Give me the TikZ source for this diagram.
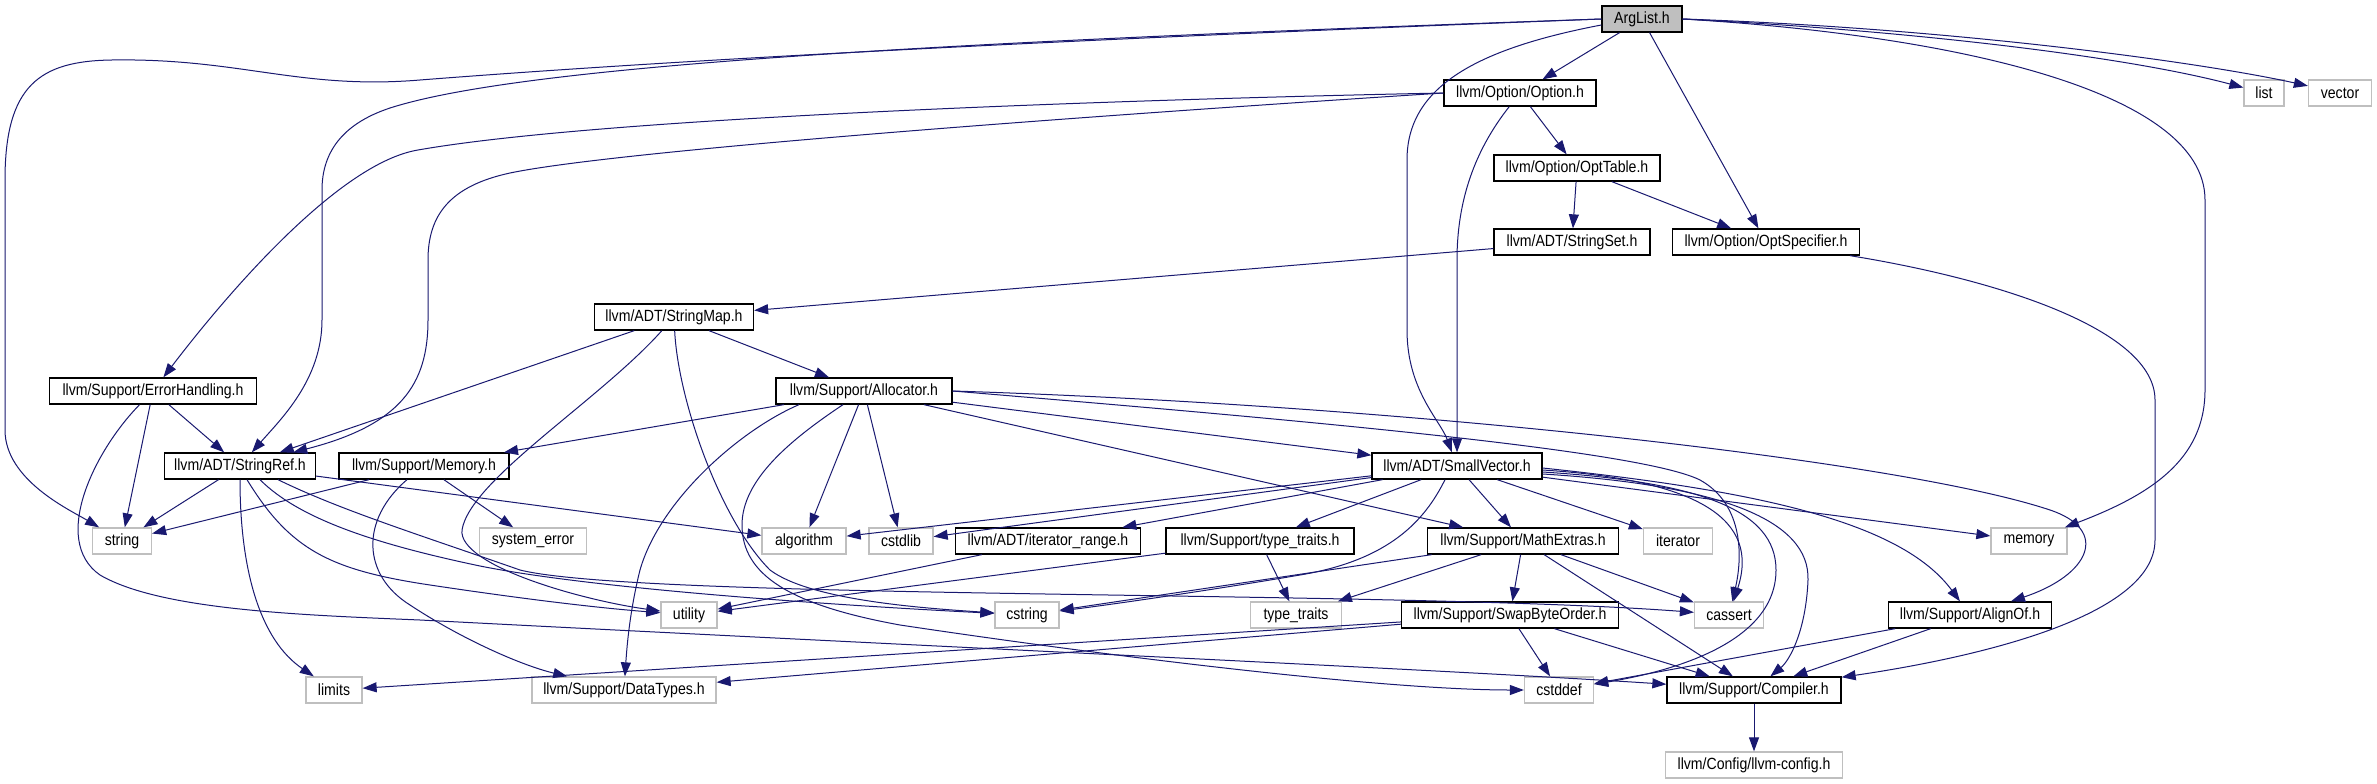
\documentclass[tikz,border=0pt]{standalone}
\usepackage{fontspec}
\setmainfont{Liberation Sans}[FakeStretch=0.87]
\usetikzlibrary{arrows.meta}
\definecolor{edgeblue}{RGB}{25,25,112}
\definecolor{sysgray}{RGB}{191,191,191}
\tikzset{
  hdr/.style={draw=black, line width=1.3pt, fill=white, minimum height=26pt,
      inner sep=0pt, font=\fontsize{16.2pt}{19pt}\selectfont},
  syshdr/.style={hdr, draw=sysgray},
  rootfile/.style={hdr, fill=sysgray},
  incl/.style={draw=edgeblue, line width=1pt, -{Triangle[length=14pt,width=10pt]}},
}

\begin{document}
\begin{tikzpicture}[x=1pt,y=-1pt]
  \path[fill=white, use as bounding box] (0,0) rectangle (2377,784);
  % Top rows
  \node[rootfile, minimum width=80pt] (arglist) at (1642,19) {ArgList.h};
  \node[hdr, minimum width=152pt] (optionh) at (1520,93) {llvm/Option/Option.h};
  \node[syshdr, minimum width=40pt] (list) at (2264,93) {list};
  \node[syshdr, minimum width=63pt] (vector) at (2340,93) {vector};
  \node[hdr, minimum width=166pt] (opttable) at (1577,168) {llvm/Option/OptTable.h};
  \node[hdr, minimum width=156pt] (stringset) at (1572,242) {llvm/ADT/StringSet.h};
  \node[hdr, minimum width=187pt] (optspec) at (1766,242) {llvm/Option/OptSpecifier.h};
  \node[hdr, minimum width=159pt] (stringmap) at (674,317) {llvm/ADT/StringMap.h};
  \node[hdr, minimum width=207pt] (errhandling) at (153,391) {llvm/Support/ErrorHandling.h};
  \node[hdr, minimum width=176pt] (allocator) at (864,391) {llvm/Support/Allocator.h};
  % Middle row
  \node[hdr, minimum width=151pt] (stringref) at (240,466) {llvm/ADT/StringRef.h};
  \node[hdr, minimum width=170pt] (memoryh) at (424,466) {llvm/Support/Memory.h};
  \node[hdr, minimum width=170pt] (smallvec) at (1457,466) {llvm/ADT/SmallVector.h};
  % Third row
  \node[syshdr, minimum width=59pt] (string) at (122,541) {string};
  \node[syshdr, minimum width=107pt] (syserror) at (533,541) {system\_error};
  \node[syshdr, minimum width=84pt] (algorithm) at (804,541) {algorithm};
  \node[syshdr, minimum width=64pt] (cstdlib) at (901,541) {cstdlib};
  \node[hdr, minimum width=185pt] (iterrange) at (1048,541) {llvm/ADT/iterator\_range.h};
  \node[hdr, minimum width=188pt] (typetraitsh) at (1260,541) {llvm/Support/type\_traits.h};
  \node[hdr, minimum width=191pt] (mathextras) at (1523,541) {llvm/Support/MathExtras.h};
  \node[syshdr, minimum width=69pt] (iterator) at (1678,541) {iterator};
  \node[syshdr, minimum width=76pt] (memory) at (2029,541) {memory};
  % Fourth row
  \node[syshdr, minimum width=56pt] (utility) at (689,615) {utility};
  \node[syshdr, minimum width=64pt] (cstring) at (1027,615) {cstring};
  \node[syshdr, minimum width=91pt] (typetraits) at (1296,615) {type\_traits};
  \node[hdr, minimum width=217pt] (swapbyte) at (1510,615) {llvm/Support/SwapByteOrder.h};
  \node[syshdr, minimum width=69pt] (cassert) at (1729,615) {cassert};
  \node[hdr, minimum width=163pt] (alignof) at (1970,615) {llvm/Support/AlignOf.h};
  % Bottom rows
  \node[syshdr, minimum width=56pt] (limits) at (334,690) {limits};
  \node[syshdr, minimum width=184pt] (datatypes) at (624,690) {llvm/Support/DataTypes.h};
  \node[syshdr, minimum width=69pt] (cstddef) at (1559,690) {cstddef};
  \node[hdr, minimum width=174pt] (compiler) at (1754,690) {llvm/Support/Compiler.h};
  \node[syshdr, minimum width=177pt] (llvmconfig) at (1754,765) {llvm/Config/llvm-config.h};

  % ArgList.h
  \draw[incl] (arglist) -- (optionh);
  \draw[incl] (arglist) -- (optspec);
  \draw[incl] (arglist.east) .. controls (1900,30) and (2120,55) .. (list);
  \draw[incl] (arglist.east) .. controls (1950,28) and (2200,62) .. (vector);
  \draw[incl] (arglist.east) .. controls (1950,35) and (2205,90) .. (2205,200) -- (2205,390)
    .. controls (2205,460) and (2150,495) .. (memory);
  \draw[incl] (arglist.west) .. controls (1000,42) and (650,62) .. (420,80)
    .. controls (300,90) and (240,58) .. (112,60) .. controls (40,61) and (5,85) .. (5,180)
    -- (5,430) .. controls (5,480) and (70,510) .. (string);
  \draw[incl] (arglist.west) .. controls (1000,40) and (550,62) .. (400,105)
    .. controls (345,120) and (322,150) .. (322,190) -- (322,320)
    .. controls (322,380) and (280,420) .. (stringref);
  \draw[incl] ([yshift=-6pt]arglist.west) .. controls (1470,50) and (1407,90) .. (1407,160)
    -- (1407,330) .. controls (1407,390) and (1440,420) .. (smallvec);
  % Option.h
  \draw[incl] (optionh) -- (opttable);
  \draw[incl] (optionh.west) .. controls (1100,100) and (600,118) .. (418,150)
    .. controls (340,163) and (230,290) .. (errhandling);
  \draw[incl] (optionh.west) .. controls (1100,115) and (620,150) .. (510,173)
    .. controls (450,186) and (428,215) .. (428,260) -- (428,320)
    .. controls (428,385) and (400,425) .. (stringref);
  \draw[incl] (optionh) .. controls (1475,150) and (1457,200) .. (1457,260) -- (smallvec);
  % OptTable.h, StringSet.h, OptSpecifier.h
  \draw[incl] (opttable) -- (stringset);
  \draw[incl] (opttable) -- (optspec);
  \draw[incl] (stringset) -- (stringmap);
  \draw[incl] (optspec) .. controls (2000,280) and (2155,330) .. (2155,400) -- (2155,540)
    .. controls (2155,620) and (1960,660) .. (compiler);
  % StringMap.h
  \draw[incl] (stringmap) -- (stringref);
  \draw[incl] (stringmap) -- (allocator);
  \draw[incl] (stringmap) .. controls (600,400) and (470,480) .. (462,530)
    .. controls (458,565) and (580,600) .. (utility);
  \draw[incl] (stringmap) .. controls (678,400) and (720,520) .. (770,570)
    .. controls (810,600) and (920,608) .. (cstring);
  % ErrorHandling.h
  \draw[incl] (errhandling) -- (stringref);
  \draw[incl] (errhandling) -- (string);
  \draw[incl] (errhandling) .. controls (95,450) and (50,540) .. (100,575)
    .. controls (160,610) and (300,615) .. (420,620)
    .. controls (900,645) and (1450,670) .. (compiler);
  % StringRef.h
  \draw[incl] (stringref) -- (string);
  \draw[incl] (stringref) -- (algorithm);
  \draw[incl] (stringref) .. controls (240,570) and (260,640) .. (limits);
  \draw[incl] ([xshift=7pt]stringref.south) .. controls (290,550) and (330,570) .. (430,585)
    .. controls (530,600) and (600,608) .. (utility);
  \draw[incl] ([xshift=20pt]stringref.south) .. controls (300,520) and (380,545) .. (480,566)
    .. controls (600,590) and (850,606) .. (cstring);
  \draw[incl] ([xshift=38pt]stringref.south) .. controls (340,510) and (420,535) .. (520,570)
    .. controls (640,600) and (1400,590) .. (cassert);
  % Memory.h
  \draw[incl] (memoryh) -- (string);
  \draw[incl] (memoryh) -- (syserror);
  \draw[incl] ([xshift=-17pt]memoryh.south) .. controls (360,520) and (362,575) .. (410,605)
    .. controls (460,638) and (520,665) .. (datatypes);
  % Allocator.h
  \draw[incl] (allocator) -- (memoryh);
  \draw[incl] (allocator) -- (algorithm);
  \draw[incl] (allocator) -- (cstdlib);
  \draw[incl] (allocator) -- (smallvec);
  \draw[incl] (allocator) -- (mathextras);
  \draw[incl] ([xshift=-65pt]allocator.south) .. controls (740,430) and (660,500) .. (640,570)
    .. controls (630,610) and (627,645) .. (datatypes);
  \draw[incl] ([xshift=-21pt]allocator.south) .. controls (790,440) and (742,480) .. (742,525)
    .. controls (742,575) and (790,605) .. (900,625)
    .. controls (1100,655) and (1380,690) .. (cstddef);
  \draw[incl] (allocator.east) .. controls (1300,420) and (1640,450) .. (1700,480)
    .. controls (1745,505) and (1742,560) .. (cassert);
  \draw[incl] (allocator.east) .. controls (1400,405) and (1900,460) .. (2050,510)
    .. controls (2110,530) and (2090,575) .. (alignof);
  % SmallVector.h
  \draw[incl] (smallvec) -- (algorithm);
  \draw[incl] (smallvec) -- (cstdlib);
  \draw[incl] (smallvec) -- (iterrange);
  \draw[incl] (smallvec) -- (typetraitsh);
  \draw[incl] (smallvec) -- (mathextras);
  \draw[incl] (smallvec) -- (iterator);
  \draw[incl] (smallvec) -- (memory);
  \draw[incl] ([xshift=-12pt]smallvec.south) .. controls (1425,520) and (1390,560) .. (1300,575)
    .. controls (1200,592) and (1100,606) .. (cstring);
  \draw[incl] ([yshift=-4pt]smallvec.east) .. controls (1700,480) and (1760,520) .. (cassert);
  \draw[incl] ([yshift=-6pt]smallvec.east) .. controls (1700,482) and (1776,510) .. (1776,570)
    .. controls (1776,640) and (1680,670) .. (cstddef);
  \draw[incl] ([yshift=-8pt]smallvec.east) .. controls (1720,485) and (1810,520) .. (1808,580)
    .. controls (1806,630) and (1790,660) .. (compiler);
  \draw[incl] ([yshift=-2pt]smallvec.east) .. controls (1750,490) and (1900,520) .. (alignof);
  % MathExtras.h
  \draw[incl] (mathextras) -- (cstring);
  \draw[incl] (mathextras) -- (typetraits);
  \draw[incl] (mathextras) -- (swapbyte);
  \draw[incl] (mathextras) -- (cassert);
  \draw[incl] (mathextras) -- (compiler);
  % the rest
  \draw[incl] (iterrange) -- (utility);
  \draw[incl] (typetraitsh) -- (utility);
  \draw[incl] (typetraitsh) -- (typetraits);
  \draw[incl] (swapbyte) -- (limits);
  \draw[incl] (swapbyte) -- (datatypes);
  \draw[incl] (swapbyte) -- (cstddef);
  \draw[incl] (swapbyte) -- (compiler);
  \draw[incl] (alignof) -- (cstddef);
  \draw[incl] (alignof) -- (compiler);
  \draw[incl] (compiler) -- (llvmconfig);
\end{tikzpicture}
\end{document}
